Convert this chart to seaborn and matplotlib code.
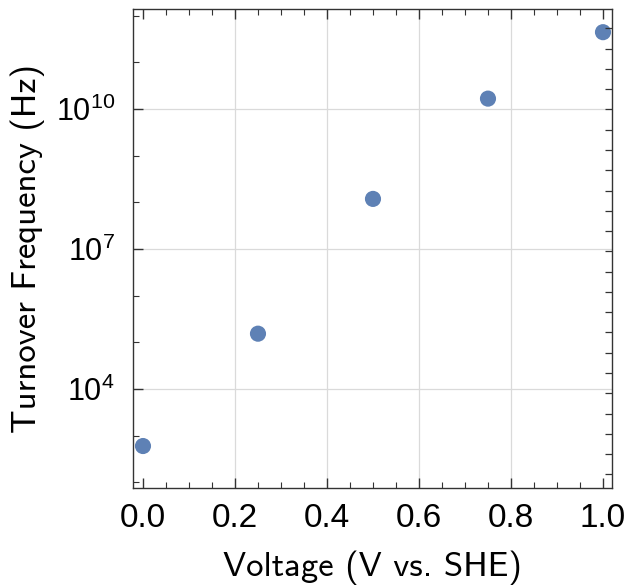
import numpy as np
import matplotlib
matplotlib.use("Agg")
import matplotlib.pyplot as plt
import matplotlib.ticker as mticker
import seaborn as sns
import pandas as pd

voltage = [0.0, 0.25, 0.5, 0.75, 1.0]
frequency = [6.0e2, 1.53e5, 1.18e8, 1.66e10, 4.4e11]
x_major = [0.0, 0.2, 0.4, 0.6, 0.8, 1.0]
x_labels = ["0.0", "0.2", "0.4", "0.6", "0.8", "1.0"]
y_major_exp = [4, 7, 10]

sns.set_style("white")
plt.rcParams['font.family'] = ['Liberation Sans', 'DejaVu Sans']
plt.rcParams['mathtext.fontset'] = 'custom'
plt.rcParams['mathtext.rm'] = 'Liberation Sans'
plt.rcParams['mathtext.it'] = 'Liberation Sans:italic'
plt.rcParams['text.color'] = 'black'
plt.rcParams['axes.labelcolor'] = 'black'
plt.rcParams['xtick.color'] = 'black'
plt.rcParams['ytick.color'] = 'black'

df = pd.DataFrame({"Voltage": voltage, "Frequency": frequency})

fig = plt.figure(figsize=(6.31, 5.86), dpi=100)
ax = fig.add_axes([133/631, 1-488/586, (612-133)/631, (488-9)/586])

ax.set_yscale('log')
for gx in [0.2, 0.4, 0.6, 0.8]:
    ax.axvline(gx, color='#dadada', lw=0.9, zorder=0)
for e in y_major_exp:
    ax.axhline(10.0**e, color='#dadada', lw=0.9, zorder=0)

sns.scatterplot(data=df, x="Voltage", y="Frequency", ax=ax, s=135,
                color='#5E81B5', edgecolor='none', zorder=3, clip_on=False)

ax.set_xlim(-0.0217, 1.0196)
ax.set_ylim(10**1.879, 10**12.14)

spine_c = '#333333'
for sp in ax.spines.values():
    sp.set_color(spine_c)
    sp.set_linewidth(1.0)

# x ticks
ax.set_xticks(x_major)
ax.set_xticklabels(x_labels)
ax.xaxis.set_minor_locator(mticker.MultipleLocator(0.05))
ax.tick_params(axis='x', which='major', direction='in', length=7, width=1,
               color=spine_c, labelcolor='black', top=True, bottom=True,
               labelsize=24, pad=11)
ax.tick_params(axis='x', which='minor', direction='in', length=4, width=0.8,
               color=spine_c, top=True, bottom=True)

# y ticks (left)
ax.set_yticks([10.0**e for e in y_major_exp])
ax.set_yticklabels([r'$\mathregular{10^{%d}}$' % e for e in y_major_exp])
ax.yaxis.set_minor_locator(mticker.FixedLocator([10.0**e for e in range(2, 13) if e not in y_major_exp]))
ax.yaxis.set_minor_formatter(mticker.NullFormatter())
ax.tick_params(axis='y', which='major', direction='in', length=7, width=1,
               color=spine_c, labelcolor='black', left=True, right=False,
               labelsize=22, pad=13)
ax.tick_params(axis='y', which='minor', direction='in', length=4, width=0.8,
               color=spine_c, left=True, right=False)

# right frame ticks at powers of e (no labels)
ax2 = ax.twinx()
ax2.set_yscale('log')
ax2.set_ylim(ax.get_ylim())
ax2.yaxis.set_major_locator(mticker.FixedLocator([np.e**n for n in range(5, 28)]))
ax2.yaxis.set_major_formatter(mticker.NullFormatter())
ax2.yaxis.set_minor_locator(mticker.NullLocator())
ax2.tick_params(axis='y', which='major', direction='in', length=5, width=0.9,
                color=spine_c, right=True, left=False)
for sp in ax2.spines.values():
    sp.set_visible(False)

ax.set_xlabel("Voltage (V vs. SHE)", fontsize=25, family='cmss10',
              color='black', labelpad=12)
ax.set_ylabel("Turnover Frequency (Hz)", fontsize=25, family='cmss10',
              color='black', labelpad=8)

fig.savefig("out.png", dpi=100)
